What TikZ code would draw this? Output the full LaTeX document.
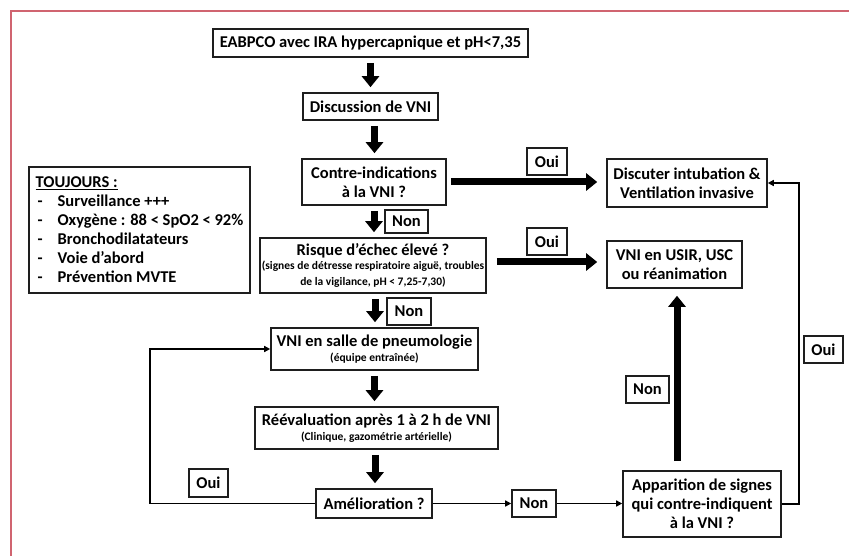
\documentclass[tikz,border=0pt]{standalone}
\usepackage{fontspec}
\setmainfont{Carlito}
\usetikzlibrary{arrows.meta}
\definecolor{framered}{RGB}{208,100,112}
\definecolor{boxline}{RGB}{30,30,30}
\newcommand{\notefont}{\fontsize{11.5}{13}\selectfont}

\begin{document}
\begin{tikzpicture}[
    x=1pt, y=-1pt,
    box/.style={draw=boxline, line width=1.6pt, align=center, inner sep=0pt,
      font=\bfseries\fontsize{16.5}{19}\selectfont},
    tag/.style={box, minimum height=27pt},
    bigarrow/.style={line width=7pt, -{Triangle[width=17pt,length=11pt]},
      shorten <=5pt, shorten >=5pt},
    thinarrow/.style={line width=1.5pt, -{Triangle[width=6pt,length=6pt]}},
    ]
    \useasboundingbox (0,0) rectangle (849,556);
    \draw[framered, line width=2pt] (11,556) -- (11,11) -- (849,11);

    % main column
    \node[box, minimum width=315pt, minimum height=28pt] (start) at (370.5,43) {EABPCO avec IRA hypercapnique et pH<7,35};
    \node[box, minimum width=135pt, minimum height=27pt] (disc) at (370.5,106.5) {Discussion de VNI};
    \node[box, minimum width=144pt, minimum height=46pt] (contre) at (374,182) {Contre-indications\\à la VNI ?};
    \node[box, minimum width=226pt, minimum height=55pt] (risque) at (373,265.5)
      {Risque d’échec élevé ?\\[-5pt]\notefont (signes de détresse respiratoire aiguë, troubles\\[-3pt]\notefont de la vigilance, pH < 7,25-7,30)};
    \node[box, minimum width=207pt, minimum height=42pt] (salle) at (374.5,349)
      {VNI en salle de pneumologie\\[-4pt]\notefont (équipe entraînée)};
    \node[box, minimum width=243pt, minimum height=42pt] (reev) at (376.5,428)
      {Réévaluation après 1 à 2 h de VNI\\[-4pt]\notefont (Clinique, gazométrie artérielle)};
    \node[box, minimum width=116pt, minimum height=29pt] (amel) at (374,503.5) {Amélioration ?};

    % right column
    \node[box, minimum width=160pt, minimum height=48pt] (intub) at (687,183) {Discuter intubation \&\\Ventilation invasive};
    \node[box, minimum width=135pt, minimum height=47pt] (usir) at (674.5,264.5) {VNI en USIR, USC\\ou réanimation};
    \node[box, minimum width=158pt, minimum height=66pt] (appar) at (702,504) {Apparition de signes\\qui contre-indiquent\\à la VNI ?};

    % reminder box
    \node[box, align=left, minimum width=221pt, minimum height=126pt] (toujours) at (139.5,230)
      {\underline{TOUJOURS :}\\
       \makebox[22pt][l]{\hspace{2pt}-}Surveillance +++\\
       \makebox[22pt][l]{\hspace{2pt}-}Oxygène : 88 < SpO2 < 92\%\\
       \makebox[22pt][l]{\hspace{2pt}-}Bronchodilatateurs\\
       \makebox[22pt][l]{\hspace{2pt}-}Voie d’abord\\
       \makebox[22pt][l]{\hspace{2pt}-}Prévention MVTE};

    % answer tags
    \node[tag, minimum width=40pt] (oui1) at (547,161.5) {Oui};
    \node[tag, minimum width=40pt] (oui2) at (547,241.5) {Oui};
    \node[tag, minimum width=43pt, minimum height=23pt] (non1) at (406.5,221.5) {Non};
    \node[tag, minimum width=44pt] (non2) at (409,311.5) {Non};
    \node[tag, minimum width=39pt, minimum height=28pt] (oui3) at (208.5,483) {Oui};
    \node[tag, minimum width=44pt] (non3) at (534,503.5) {Non};
    \node[tag, minimum width=43pt] (non4) at (647.5,389.5) {Non};
    \node[tag, minimum width=39pt] (oui4) at (823.5,349.5) {Oui};

    \coordinate (loopx) at (150,0);
    \coordinate (rightx) at (799,0);

    % thick arrows
    \draw[bigarrow] (start.south) -- (start.south |- disc.north);
    \draw[bigarrow] ([xshift=4pt]disc.south) -- ([xshift=4pt]disc.south |- contre.north);
    \draw[bigarrow] (contre.south) -- (contre.south |- risque.north);
    \draw[bigarrow] ([xshift=2pt]risque.south) -- ([xshift=2pt]risque.south |- salle.north);
    \draw[bigarrow] (salle.south) -- (salle.south |- reev.north);
    \draw[bigarrow] ([xshift=-1.5pt]reev.south) -- ([xshift=-1.5pt]reev.south |- amel.north);
    \draw[bigarrow, shorten <=4pt, shorten >=9pt] (contre.east) -- (contre.east -| intub.west);
    \draw[bigarrow, shorten <=10pt, shorten >=9pt] ([yshift=3.5pt]risque.east) -- ([yshift=3.5pt]risque.east -| usir.west);
    \draw[bigarrow, shorten <=9pt, shorten >=7pt] ([xshift=-25pt]appar.north) -- ([xshift=-25pt]appar.north |- usir.south);

    % thin arrows
    \draw[thinarrow] (amel.west) -- (amel.west -| loopx) |- (salle.west);
    \draw[thinarrow] (amel.east) -- (non3.west);
    \draw[thinarrow] (non3.east) -- (non3.east -| appar.west);
    \draw[thinarrow] (appar.east) -- (appar.east -| rightx) |- (intub.east);
\end{tikzpicture}
\end{document}
